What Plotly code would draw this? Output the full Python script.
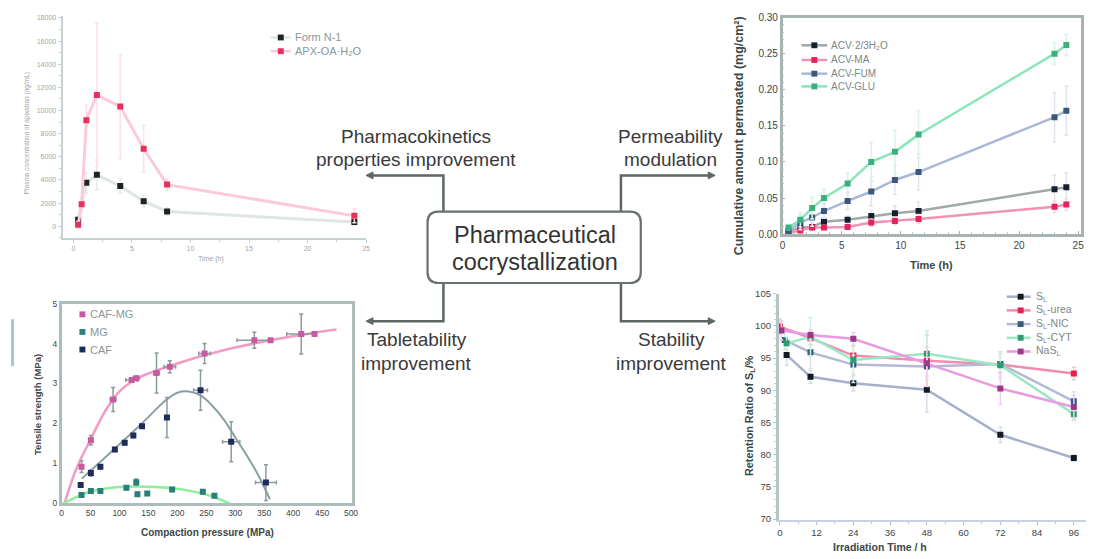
import plotly.graph_objects as go

# page body has an 8px margin; figure is sized to fit inside the window
OFF = 8
W, H = 1094, 551
def px(x): return (x - OFF) / W
def py(y): return 1 - (y - OFF) / H

# ---------- Panel 1: pharmacokinetics ----------
pk_t_apx = [0.4, 0.7, 1.1, 2, 4, 6, 8, 24]
pk_apx = [140, 1900, 9150, 11350, 10340, 6700, 3600, 900]
pk_apx_err = [300, 600, 1300, 6200, 4500, 2000, 500, 600]
pk_t_form = [0.4, 1.1, 2, 4, 6, 8, 24]
pk_form = [560, 3750, 4450, 3470, 2170, 1270, 370]
pk_form_err = [300, 900, 1300, 600, 500, 300, 300]
pk_names = ["Form N-1", "APX-OA·H₂O"]

# ---------- Panel 2: permeability ----------
pm_t = [0.5, 1.5, 2.5, 3.5, 5.5, 7.5, 9.5, 11.5, 23, 24]
pm_hyd = [0.003, 0.009, 0.010, 0.017, 0.020, 0.025, 0.029, 0.032, 0.062, 0.065]
pm_ma = [0.0014, 0.005, 0.009, 0.009, 0.010, 0.016, 0.018, 0.021, 0.038, 0.041]
pm_fum = [0.0045, 0.016, 0.023, 0.032, 0.046, 0.059, 0.075, 0.086, 0.162, 0.171]
pm_glu = [0.009, 0.020, 0.036, 0.050, 0.070, 0.100, 0.114, 0.138, 0.250, 0.262]
pm_hyd_err = [0.002, 0.003, 0.005, 0.005, 0.005, 0.008, 0.010, 0.012, 0.020, 0.020]
pm_ma_err = [0.001, 0.002, 0.002, 0.003, 0.003, 0.005, 0.005, 0.006, 0.008, 0.008]
pm_fum_err = [0.002, 0.010, 0.012, 0.010, 0.012, 0.020, 0.020, 0.025, 0.034, 0.034]
pm_glu_err = [0.003, 0.010, 0.015, 0.012, 0.015, 0.027, 0.030, 0.033, 0.015, 0.015]
pm_names = ["ACV·2/3H₂O", "ACV-MA", "ACV-FUM", "ACV-GLU"]

# ---------- Panel 3: tabletability ----------
tb_cafmg_p = [34.5, 50.6, 89, 121, 129, 164, 187, 247, 333, 361, 414, 437]
tb_cafmg_s = [0.92, 1.58, 2.6, 3.09, 3.13, 3.26, 3.42, 3.75, 4.08, 4.08, 4.24, 4.24]
tb_cafmg_ey = [0.15, 0.12, 0.3, 0.05, 0.05, 0.5, 0.15, 0.25, 0.2, 0.0, 0.5, 0.0]
tb_cafmg_ex = [0, 0, 5, 10, 5, 5, 10, 10, 30, 0, 25, 0]
tb_caf_p = [33, 50.6, 67, 92, 109, 124, 139, 182, 240, 293, 353]
tb_caf_s = [0.46, 0.76, 0.92, 1.35, 1.52, 1.70, 1.93, 2.15, 2.83, 1.54, 0.52]
tb_caf_ey = [0.05, 0.08, 0.05, 0.05, 0.05, 0.05, 0.05, 0.5, 0.5, 0.5, 0.45]
tb_caf_ex = [0, 0, 0, 0, 0, 0, 0, 0, 12, 15, 18]
tb_mg_p = [34.5, 50.6, 67, 112, 129, 131, 148, 191, 244, 264]
tb_mg_s = [0.21, 0.31, 0.31, 0.39, 0.53, 0.23, 0.25, 0.35, 0.29, 0.19]
tb_mg_ey = [0.03, 0.03, 0.03, 0.05, 0.08, 0.05, 0.03, 0.05, 0.05, 0.03]
fit_cafmg_p = [5, 25, 50, 75, 100, 125, 150, 200, 250, 300, 350, 400, 450, 475]
fit_cafmg_s = [0.0, 0.85, 1.6, 2.3, 2.8, 3.08, 3.25, 3.5, 3.72, 3.9, 4.05, 4.18, 4.3, 4.35]
fit_caf_p = [35, 60, 100, 140, 180, 200, 220, 240, 260, 280, 300, 320, 340, 360]
fit_caf_s = [0.62, 0.95, 1.48, 2.02, 2.58, 2.77, 2.8, 2.7, 2.45, 2.1, 1.65, 1.2, 0.7, 0.1]
fit_mg_p = [3, 20, 40, 60, 80, 100, 130, 160, 190, 220, 250, 270, 290]
fit_mg_s = [0.0, 0.12, 0.25, 0.33, 0.38, 0.41, 0.42, 0.41, 0.38, 0.32, 0.22, 0.12, 0.0]
tb_names = ["CAF-MG", "MG", "CAF"]

# ---------- Panel 4: stability ----------
st_t_sl = [2.2, 10, 24, 48, 72, 96]
st_sl = [95.5, 92.1, 91.1, 90.1, 83.1, 79.5]
st_sl_err = [1.6, 1.0, 1.2, 3.5, 1.2, 0.5]
st_t_urea = [0, 10, 24, 48, 72, 96]
st_urea = [99.9, 98.1, 95.4, 94.6, 94.0, 92.6]
st_urea_err = [1.2, 1.0, 1.5, 4.0, 2.0, 1.0]
st_t_nic = [1.6, 10, 24, 48, 72, 96]
st_nic = [97.8, 95.9, 94.0, 93.7, 94.1, 88.3]
st_nic_err = [1.5, 2.5, 1.5, 1.5, 1.5, 1.5]
st_t_cyt = [2.2, 10, 24, 48, 72, 96]
st_cyt = [97.3, 98.3, 94.7, 95.7, 93.9, 86.3]
st_cyt_err = [1.0, 3.0, 3.5, 3.5, 2.0, 1.0]
st_t_na = [0.5, 10, 24, 48, 72, 96]
st_na = [99.3, 98.6, 98.0, 94.2, 90.3, 87.4]
st_na_err = [1.5, 0.8, 1.0, 2.5, 2.5, 1.8]
st_names = ["S<sub>L</sub>", "S<sub>L</sub>-urea", "S<sub>L</sub>-NIC", "S<sub>L</sub>-CYT", "NaS<sub>L</sub>"]

FONT = "Liberation Sans, Arial, sans-serif"
fig = go.Figure()
shapes = []
ann = []

def series(x, y, err, name, mcol, lcol, ecol, xa, ya, msize=6, lw=2.5, errx=None, mode="lines+markers"):
    kw = {}
    if err is not None:
        kw["error_y"] = dict(type="data", array=err, visible=True, color=ecol, thickness=1.5, width=2)
    if errx is not None:
        kw["error_x"] = dict(type="data", array=errx, visible=True, color=ecol, thickness=1.5, width=2)
    fig.add_trace(go.Scatter(x=x, y=y, name=name, mode=mode, xaxis=xa, yaxis=ya, showlegend=False,
                             marker=dict(symbol="square", size=msize, color=mcol),
                             line=dict(color=lcol, width=lw), **kw))

def text(x, y, s, size, color="#333", bold=False, angle=0, xanchor="center"):
    if bold:
        s = "<b>" + s + "</b>"
    ann.append(dict(x=px(x), y=py(y), xref="paper", yref="paper", text=s, showarrow=False, textangle=angle,
                    font=dict(family=FONT, size=size, color=color), xanchor=xanchor, yanchor="middle"))

def key(x0, x1, xm, y, xt, name, lcol, mcol, tsize, tcol, ms=3):
    # hand-drawn legend entry (line sample, square marker, label)
    if lcol is not None:
        shapes.append(dict(type="line", xref="paper", yref="paper", x0=px(x0), x1=px(x1), y0=py(y), y1=py(y),
                           line=dict(color=lcol, width=2.5)))
    shapes.append(dict(type="rect", xref="paper", yref="paper", x0=px(xm - ms), x1=px(xm + ms),
                       y0=py(y + ms), y1=py(y - ms), fillcolor=mcol, line=dict(width=0)))
    text(xt, y, name, tsize, tcol, xanchor="left")

# Panel 1
p1 = [("#1c2424", "#dfe5e5", "#e6eaea"), ("#e8305e", "#fbcadb", "#fde0ea")]
series(pk_t_form, pk_form, pk_form_err, pk_names[0], *p1[0], "x", "y", lw=3)
series(pk_t_apx, pk_apx, pk_apx_err, pk_names[1], *p1[1], "x", "y", lw=3)
for i, yy in enumerate([32, 46]):
    key(270, 290, 280, yy, 292, pk_names[i], p1[i][1], p1[i][0], 11, "#8a9898")

# Panel 2
p2 = [("#16202c", "#a0a8a8", "#dfe3ea"), ("#e2245a", "#f292b4", "#f8d4e0"),
      ("#3c5878", "#a9b8da", "#dfe4f0"), ("#3caf7e", "#88e6b8", "#d8f4e6")]
for vals, errs, i in [(pm_hyd, pm_hyd_err, 0), (pm_ma, pm_ma_err, 1), (pm_fum, pm_fum_err, 2), (pm_glu, pm_glu_err, 3)]:
    series(pm_t, vals, errs, pm_names[i], *p2[i], "x2", "y2")
for i, yy in enumerate([40, 55, 69, 82]):
    key(805, 831, 818, yy, 833, pm_names[i], p2[i][1], p2[i][0], 10, "#7a8888")

# Panel 3 fits
fig.add_trace(go.Scatter(x=fit_cafmg_p, y=fit_cafmg_s, mode="lines", line=dict(color="#f39ac6", width=2.5, shape="spline"),
                         xaxis="x3", yaxis="y3", showlegend=False))
fig.add_trace(go.Scatter(x=fit_caf_p, y=fit_caf_s, mode="lines", line=dict(color="#8aa0a4", width=2, shape="spline"),
                         xaxis="x3", yaxis="y3", showlegend=False))
fig.add_trace(go.Scatter(x=fit_mg_p, y=fit_mg_s, mode="lines", line=dict(color="#8cef9a", width=2.5, shape="spline"),
                         xaxis="x3", yaxis="y3", showlegend=False))
p3 = ["#c85aa0", "#2a8078", "#1e2c5c"]
series(tb_cafmg_p, tb_cafmg_s, tb_cafmg_ey, tb_names[0], p3[0], None, "#8a9c9c", "x3", "y3", errx=tb_cafmg_ex, mode="markers")
series(tb_mg_p, tb_mg_s, tb_mg_ey, tb_names[1], p3[1], None, "#8a9c9c", "x3", "y3", mode="markers")
series(tb_caf_p, tb_caf_s, tb_caf_ey, tb_names[2], p3[2], None, "#8a9c9c", "x3", "y3", errx=tb_caf_ex, mode="markers")
for i, yy in enumerate([315, 333, 351]):
    key(0, 0, 80, yy, 86, tb_names[i], None, p3[i], 11, "#8a9898")

# Panel 4
p4 = [("#121a22", "#a6b0cc", "#d8dde8"), ("#e6204c", "#f28cae", "#f6c8d6"), ("#3a5a80", "#b2bad4", "#dde2ee"),
      ("#2f9c70", "#9ce8c2", "#c8f2dc"), ("#983a88", "#e89ae2", "#f4cdee")]
st_all = [(st_t_sl, st_sl, st_sl_err), (st_t_urea, st_urea, st_urea_err), (st_t_nic, st_nic, st_nic_err),
          (st_t_cyt, st_cyt, st_cyt_err), (st_t_na, st_na, st_na_err)]
for i, (tt, vv, ee) in enumerate(st_all):
    series(tt, vv, ee, st_names[i], *p4[i], "x4", "y4")
for i, yy in enumerate([297, 311, 325, 339, 353]):
    key(1012, 1036, 1026, yy, 1039, st_names[i], p4[i][1], p4[i][0], 10.5, "#7a8888")

tickf_light = dict(family=FONT, size=7, color="#9aa8a8")
def tickf(s): return dict(family=FONT, size=s, color="#3c4646")

layout = dict(
    width=W, height=H, margin=dict(l=0, r=0, t=0, b=0), showlegend=False,
    paper_bgcolor="white", plot_bgcolor="rgba(0,0,0,0)",
    font=dict(family=FONT, color="#333"),
    xaxis=dict(domain=[px(60), px(366)], anchor="y", range=[-0.93, 25.0], tickvals=[0, 5, 10, 15, 20, 25],
               showgrid=False, zeroline=False, showline=True,
               linecolor="#c6d2d2", linewidth=2, ticks="outside", ticklen=3, tickcolor="#c6d2d2",
               minor=dict(dtick=2.5, ticks="outside", ticklen=2, tickcolor="#c6d2d2"), tickfont=tickf_light),
    yaxis=dict(domain=[py(237), py(10)], anchor="x", range=[-1014, 18170], dtick=2000, tickformat="d",
               showgrid=False, zeroline=False, showline=True, linecolor="#c6d2d2", linewidth=2, ticks="outside",
               ticklen=3, tickcolor="#c6d2d2", minor=dict(dtick=1000, ticks="outside", ticklen=2, tickcolor="#c6d2d2"),
               tickfont=tickf_light),
    xaxis2=dict(domain=[px(786), px(1087)], anchor="y2", range=[0, 25.25], dtick=5, showgrid=False, zeroline=False,
                showline=True, mirror=True, linecolor="#a8b4b4", linewidth=2.5, ticks="inside", ticklen=3,
                tickcolor="#a8b4b4", minor=dict(dtick=1, ticks="inside", ticklen=2, tickcolor="#b8c4c4"),
                tickfont=tickf(10)),
    yaxis2=dict(domain=[py(233), py(11.7)], anchor="x2", range=[0, 0.30], dtick=0.05, tickformat=".2f",
                showgrid=False, zeroline=False, showline=True, mirror=True, linecolor="#a8b4b4", linewidth=2.5,
                ticks="inside", ticklen=3, tickcolor="#a8b4b4",
                minor=dict(dtick=0.01, ticks="inside", ticklen=2, tickcolor="#b8c4c4"), tickfont=tickf(10)),
    xaxis3=dict(domain=[px(59), px(352)], anchor="y3", range=[0, 502], dtick=50, showgrid=False, zeroline=False,
                showline=True, mirror=True, linecolor="#aebcbc", linewidth=2.5, ticks="", tickfont=tickf(8.5)),
    yaxis3=dict(domain=[py(508.3), py(304)], anchor="x3", range=[0, 5], dtick=1, showgrid=False, zeroline=False,
                showline=True, mirror=True, linecolor="#aebcbc", linewidth=2.5, ticks="", tickfont=tickf(8.5)),
    xaxis4=dict(domain=[px(782), px(1092)], anchor="y4", range=[-0.4, 100.0], tickvals=[0, 12, 24, 36, 48, 60, 72, 84, 96],
                showgrid=False, zeroline=False, showline=True, linecolor="#c8d0e2", linewidth=2, ticks="outside",
                ticklen=3, tickcolor="#b8c0d0", minor=dict(dtick=6, ticks="outside", ticklen=2, tickcolor="#b8c0d0"),
                tickfont=tickf(9.5)),
    yaxis4=dict(domain=[py(525), py(294)], anchor="x4", range=[69.9, 105], tickvals=[70, 75, 80, 85, 90, 95, 100, 105],
                showgrid=False, zeroline=False, showline=True, linecolor="#b4c6c6", linewidth=2.5, ticks="outside",
                ticklen=3, tickcolor="#b4c6c6", minor=dict(dtick=1, ticks="outside", ticklen=2, tickcolor="#c4d2d2"),
                tickfont=tickf(9.5)),
)
fig.update_layout(**layout)

# axis titles
text(24, 130, "Plasma concentration of apixaban (ng/mL)", 6.5, "#9aa8a8", angle=-90)
text(210, 258, "Time (h)", 7, "#9aa8a8")
text(742, 132, "Cumulative amount permeated (mg/cm²)", 12.5, "#3c4848", bold=True, angle=-90)
text(936, 265, "Time (h)", 11, "#3c4848", bold=True)
text(35, 407, "Tensile strength (MPa)", 9.5, "#3c4848", bold=True, angle=-90)
text(206, 538, "Compaction pressure (MPa)", 10, "#3c4848", bold=True)
text(753, 418, "Retention Ratio of S<sub>L</sub>/%", 10.8, "#3c4848", bold=True, angle=-90)
text(884, 553, "Irradiation Time / h", 10.5, "#3c4848", bold=True)

# central labels
text(536, 234, "Pharmaceutical", 23.5, "#333")
text(536, 262, "cocrystallization", 23.5, "#333")
text(416, 133, "Pharmacokinetics", 19, "#3a3a3a")
text(416, 157, "properties improvement", 19, "#3a3a3a")
text(673, 133, "Permeability", 19, "#3a3a3a")
text(673, 157, "modulation", 19, "#3a3a3a")
text(417, 341, "Tabletability", 19, "#3a3a3a")
text(417, 365, "improvement", 19, "#3a3a3a")
text(674, 341, "Stability", 19, "#3a3a3a")
text(674, 365, "improvement", 19, "#3a3a3a")
fig.update_layout(annotations=ann)

LC = "#5e6666"
def pp(x, y): return f"{px(x)},{py(y)}"
def pline(pts):
    d = "M " + " L ".join(pp(x, y) for x, y in pts)
    shapes.append(dict(type="path", xref="paper", yref="paper", path=d, line=dict(color=LC, width=2.5)))
def head(x, y, direction):
    L, h = 7, 3.5
    bx = x - direction * L
    d = f"M {pp(x, y)} L {pp(bx, y - h)} L {pp(bx, y + h)} Z"
    shapes.append(dict(type="path", xref="paper", yref="paper", path=d, fillcolor=LC, line=dict(color=LC, width=1)))

pline([(444, 210), (444, 173), (372, 173)]); head(366, 173, -1)
pline([(623, 210), (623, 173), (712, 173)]); head(718, 173, 1)
pline([(444, 283), (444, 322), (372, 322)]); head(366, 322, -1)
pline([(623, 283), (623, 322), (712, 322)]); head(718, 322, 1)

# rounded box
x0, x1, y0, y1, r = 428, 643, 210, 283, 11
path = (f"M {pp(x0+r,y0)} L {pp(x1-r,y0)} Q {pp(x1,y0)} {pp(x1,y0+r)} L {pp(x1,y1-r)} Q {pp(x1,y1)} {pp(x1-r,y1)} "
        f"L {pp(x0+r,y1)} Q {pp(x0,y1)} {pp(x0,y1-r)} L {pp(x0,y0+r)} Q {pp(x0,y0)} {pp(x0+r,y0)} Z")
shapes.append(dict(type="path", xref="paper", yref="paper", path=path, line=dict(color="#687070", width=2.2),
                   fillcolor="rgba(255,255,255,0)"))
# small side tab
shapes.append(dict(type="rect", xref="paper", yref="paper", x0=px(OFF), x1=px(11), y0=py(368), y1=py(320),
                   fillcolor="#a9c6d2", line=dict(width=0)))
fig.update_layout(shapes=shapes)

fig.write_html("out.html")
